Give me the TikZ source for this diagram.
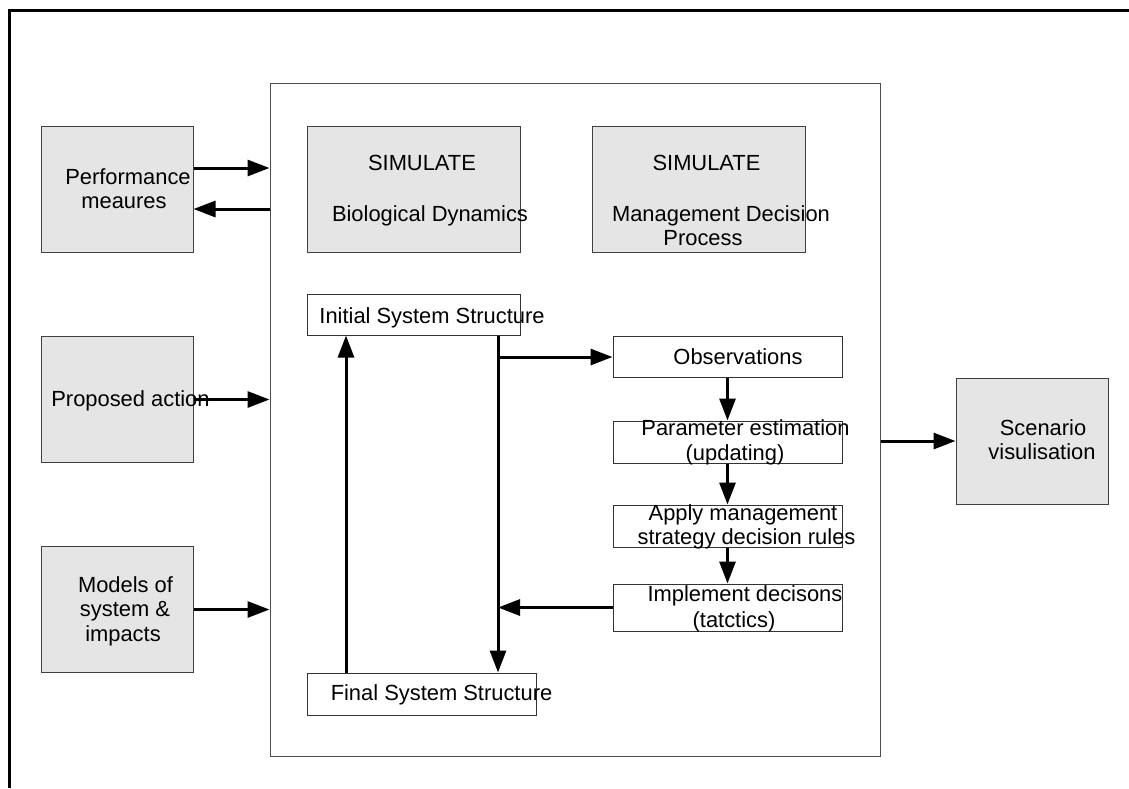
\documentclass[tikz,border=0pt]{standalone}
\usepackage{fontspec}
\setmainfont{Liberation Sans}
\usetikzlibrary{arrows.meta}
\tikzset{
  frameline/.style={line width=1pt, draw=black!70},
  greybox/.style={draw=black!75, line width=1pt, fill=black!10, minimum width=152pt, minimum height=126pt, inner sep=0pt},
  simbox/.style={greybox, minimum width=213pt},
  whitebox/.style={draw=black!80, line width=1pt, fill=white, inner sep=0pt},
  lbl/.style={inner sep=0pt, text height=15.7pt, text depth=0pt, font=\fontsize{21.9}{25}\selectfont},
  arr/.style={line width=3pt, -{Triangle[length=22pt,width=16pt]}},
}
\begin{document}
\begin{tikzpicture}[x=1pt,y=-1pt]
\useasboundingbox (0,0) rectangle (1129,788);
% outer frame (top and left only)
\draw[line width=2.4pt] (9.5,788) -- (9.5,10.5) -- (1129,10.5);
% system frame
\node[frameline, draw, minimum width=610pt, minimum height=673pt, inner sep=0pt] (sys) at (575,419.5) {};
% left boxes
\node[greybox] (perf) at (117,189) {};
\node[greybox] (prop) at (117,399.5) {};
\node[greybox] (models) at (117,609.5) {};
% simulate boxes
\node[simbox] (bio) at (413.5,189) {};
\node[simbox] (mgmt) at (698.5,189) {};
% scenario
\node[greybox] (scen) at (1032,441) {};
% white boxes
\node[whitebox, minimum width=213pt, minimum height=41pt] (init) at (413.5,314.5) {};
\node[whitebox, minimum width=229pt, minimum height=41pt] (obs) at (727.5,357) {};
\node[whitebox, minimum width=229pt, minimum height=42pt] (param) at (727.5,442) {};
\node[whitebox, minimum width=229pt, minimum height=42pt] (apply) at (727.5,526) {};
\node[whitebox, minimum width=229pt, minimum height=47pt] (impl) at (727.5,607.5) {};
\node[whitebox, minimum width=229pt, minimum height=42pt] (final) at (422,694) {};
% labels
\node[lbl] (perf1) at (128,177) {Performance};
\node[lbl] (perf2) at (124,201) {meaures};
\node[lbl] (prop1) at (130.5,399) {Proposed action};
\node[lbl] (mod1) at (125.5,584.5) {Models of};
\node[lbl] (mod2) at (125,609) {system \&};
\node[lbl] (mod3) at (123,633.5) {impacts};
\node[lbl] (bio1) at (422,163) {SIMULATE};
\node[lbl] (bio2) at (430,214) {Biological Dynamics};
\node[lbl] (mg1) at (706.5,163) {SIMULATE};
\node[lbl] (mg2) at (721,214) {Management Decision};
\node[lbl] (mg3) at (703,238) {Process};
\node[lbl] (init1) at (432,316) {Initial System Structure};
\node[lbl] (obs1) at (738,357) {Observations};
\node[lbl] (par1) at (745.5,428) {Parameter estimation};
\node[lbl] (par2) at (735,453) {(updating)};
\node[lbl] (app1) at (743,513) {Apply management};
\node[lbl] (app2) at (746.5,537) {strategy decision rules};
\node[lbl] (imp1) at (745,594) {Implement decisons};
\node[lbl] (imp2) at (734,620) {(tatctics)};
\node[lbl] (fin1) at (441.5,693) {Final System Structure};
\node[lbl] (sc1) at (1043,428) {Scenario};
\node[lbl] (sc2) at (1042,452) {visulisation};
% connectors
\coordinate (pa) at (perf.east |- 0,168);
\coordinate (pb) at (perf.east |- 0,209);
\draw[arr] (pa) -- (pa -| sys.west);
\draw[arr] (pb -| sys.west) -- (pb);
\draw[arr] (prop.east) -- (prop.east -| sys.west);
\draw[arr] (models.east) -- (models.east -| sys.west);
\draw[arr] (sys.east |- scen.west) -- (scen.west);
\draw[arr] (final.north -| 346,0) -- (init.south -| 346,0);
\draw[arr] (init.south -| 498,0) -- (final.north -| 498,0);
\draw[arr] (obs.west -| 498,0) -- (obs.west);
\draw[arr] (obs.south) -- (param.north);
\draw[arr] (param.south) -- (apply.north);
\draw[arr] (apply.south) -- (impl.north);
\draw[arr] (impl.west) -- (impl.west -| 498,0);
\end{tikzpicture}
\end{document}
